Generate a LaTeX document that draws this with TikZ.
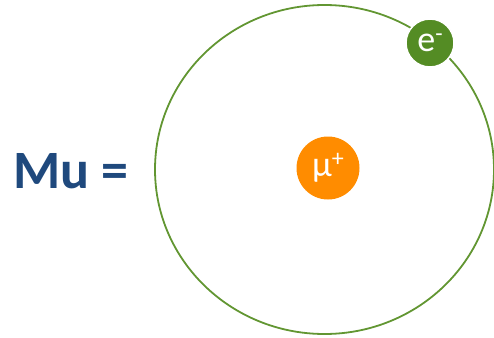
\documentclass[tikz,border=0pt]{standalone}
\usepackage{fontspec}
\setmainfont{Carlito}
\usepackage{tikz}
\usetikzlibrary{positioning}
\definecolor{mublue}   {RGB}{31 , 73 ,125}
\definecolor{orbitgreen}{RGB}{98 ,150, 50}
\definecolor{elecgreen}{RGB}{84 ,140, 36}
\definecolor{muorange} {RGB}{255,140,  0}

\begin{document}
\begin{tikzpicture}[
  x=1pt, y=-1pt,
  every node/.style={align=center, inner sep=0pt},
  particle/.style={circle, text=white, font=\fontsize{36}{36}\selectfont},
  orbit/.style={draw=orbitgreen, line width=1.8pt}
]
  \useasboundingbox (0,0) rectangle (494,337);

  % Orbit
  \draw [orbit] (324.5,169.5) ellipse [x radius=169.5, y radius=164.5];

  % Nodes
  \node (label) [anchor=base west, text=mublue, font=\fontsize{54}{54}\selectfont\bfseries] at (13,188) {Mu =};
  \node (muon) [particle, fill=muorange, minimum size=63pt] at (328,168) {μ\raisebox{10pt}{\fontsize{24}{24}\selectfont +}};
  \node (electron) [particle, fill=elecgreen, draw=white, line width=1.5pt, minimum size=48pt] at (430,43) {e\raisebox{10pt}{\fontsize{24}{24}\selectfont -}};
\end{tikzpicture}
\end{document}
